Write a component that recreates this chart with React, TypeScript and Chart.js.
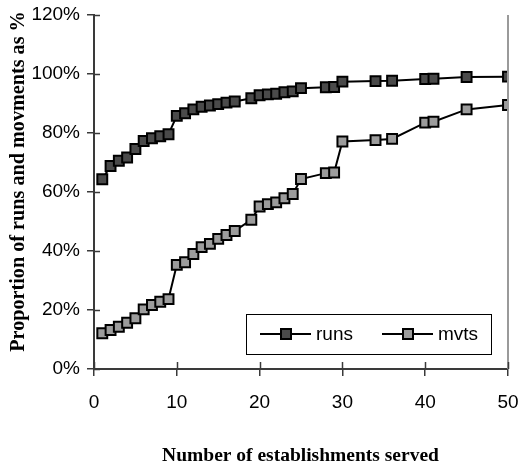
import React, { useEffect, useRef } from "react";
import { Chart, registerables } from "chart.js";

Chart.register(...registerables);

const establishments = [1, 2, 3, 4, 5, 6, 7, 8, 9, 10, 11, 12, 13, 14, 15, 16, 17, 19, 20, 21, 22, 23, 24, 25, 28, 29, 30, 34, 36, 40, 41, 45, 50];
const runsPct = [64.3, 68.8, 70.6, 71.7, 74.6, 77.3, 78.2, 78.9, 79.6, 85.8, 86.7, 88.0, 88.9, 89.3, 89.8, 90.3, 90.7, 91.8, 92.8, 93.1, 93.3, 93.8, 94.1, 95.2, 95.5, 95.6, 97.4, 97.6, 97.7, 98.3, 98.4, 99.0, 99.1];
const mvtsPct = [12.1, 13.2, 14.3, 15.7, 17.2, 20.2, 21.7, 22.8, 23.7, 35.3, 36.2, 39.0, 41.3, 42.4, 44.1, 45.4, 46.8, 50.6, 55.1, 55.9, 56.5, 57.9, 59.3, 64.4, 66.4, 66.6, 77.1, 77.6, 78.0, 83.5, 83.8, 88.0, 89.5];
const seriesNames = ["runs", "mvts"];
const xTitle = "Number of establishments served";
const yTitle = "Proportion of runs and movments as %";

const RUNS_FILL = "#4a4a4a";
const MVTS_FILL = "#9c9c9c";
const AXIS_COLOR = "#3a3a3a";
const TICK_FONT = "Liberation Sans";
const TITLE_FONT = "Liberation Serif";

const decorPlugin = {
  id: "decor",
  afterDraw(chart: any) {
    const ctx = chart.ctx as CanvasRenderingContext2D;
    const { left, right, top, bottom } = chart.chartArea;
    const xs = chart.scales.x;
    const ys = chart.scales.y;
    ctx.save();
    // right border
    ctx.strokeStyle = "#9a9a9a";
    ctx.lineWidth = 2;
    ctx.beginPath();
    ctx.moveTo(right, top);
    ctx.lineTo(right, bottom);
    ctx.stroke();
    // inner tick marks
    ctx.strokeStyle = AXIS_COLOR;
    ctx.lineWidth = 1.5;
    ys.ticks.forEach((t: any) => {
      const y = Math.round(ys.getPixelForValue(t.value)) + 0.5;
      ctx.beginPath();
      ctx.moveTo(left, y);
      ctx.lineTo(left + 6, y);
      ctx.stroke();
    });
    xs.ticks.forEach((t: any) => {
      const x = Math.round(xs.getPixelForValue(t.value)) + 0.5;
      ctx.beginPath();
      ctx.moveTo(x, bottom);
      ctx.lineTo(x, bottom - 7);
      ctx.stroke();
    });
    // legend
    const lx = 246.5, ly = 314.5, lw = 245, lh = 40;
    ctx.fillStyle = "#ffffff";
    ctx.fillRect(lx, ly, lw, lh);
    ctx.strokeStyle = "#000";
    ctx.lineWidth = 1;
    ctx.strokeRect(lx, ly, lw, lh);
    const entries = [
      { name: seriesNames[0], fill: RUNS_FILL, x0: 260 },
      { name: seriesNames[1], fill: MVTS_FILL, x0: 382 },
    ];
    const cy = 334;
    entries.forEach((e) => {
      ctx.strokeStyle = "#000";
      ctx.lineWidth = 2;
      ctx.beginPath();
      ctx.moveTo(e.x0, cy);
      ctx.lineTo(e.x0 + 51, cy);
      ctx.stroke();
      ctx.fillStyle = e.fill;
      ctx.fillRect(e.x0 + 21, cy - 5, 10, 10);
      ctx.strokeRect(e.x0 + 21, cy - 5, 10, 10);
      ctx.fillStyle = "#000";
      ctx.font = `19px "${TICK_FONT}"`;
      ctx.textBaseline = "middle";
      ctx.textAlign = "left";
      ctx.fillText(e.name, e.x0 + 56, cy + 1);
    });
    // titles
    ctx.fillStyle = "#000";
    ctx.font = `bold 19.5px "${TITLE_FONT}"`;
    ctx.textAlign = "center";
    ctx.textBaseline = "alphabetic";
    ctx.fillText(xTitle, 300.5, 461);
    ctx.save();
    ctx.font = `bold 20.2px "${TITLE_FONT}"`;
    ctx.translate(24, 181.5);
    ctx.rotate(-Math.PI / 2);
    ctx.fillText(yTitle, 0, 0);
    ctx.restore();
    ctx.restore();
  },
};

export default function App() {
  const canvasRef = useRef<HTMLCanvasElement | null>(null);

  useEffect(() => {
    const canvas = canvasRef.current;
    if (!canvas) return;
    const makePoints = (vals: number[]) => establishments.map((x, i) => ({ x, y: vals[i] }));
    const chart = new Chart(canvas, {
      type: "line",
      data: {
        datasets: [
          {
            label: seriesNames[0],
            data: makePoints(runsPct),
            borderColor: "#000",
            borderWidth: 2,
            backgroundColor: RUNS_FILL,
            pointBackgroundColor: RUNS_FILL,
            pointBorderColor: "#000",
            pointBorderWidth: 2,
            pointStyle: "rect",
            pointRadius: 7,
            tension: 0,
            fill: false,
          },
          {
            label: seriesNames[1],
            data: makePoints(mvtsPct),
            borderColor: "#000",
            borderWidth: 2,
            backgroundColor: MVTS_FILL,
            pointBackgroundColor: MVTS_FILL,
            pointBorderColor: "#000",
            pointBorderWidth: 2,
            pointStyle: "rect",
            pointRadius: 7,
            tension: 0,
            fill: false,
          },
        ],
      },
      options: {
        responsive: false,
        animation: false,
        layout: { padding: { top: 15, right: 13, left: 0, bottom: 0 } },
        plugins: { legend: { display: false }, tooltip: { enabled: false } },
        scales: {
          x: {
            type: "linear",
            min: 0,
            max: 50,
            ticks: {
              stepSize: 10,
              color: "#000",
              padding: 15,
              font: { family: TICK_FONT, size: 19 },
            },
            grid: { drawOnChartArea: false, tickLength: 7, color: AXIS_COLOR, lineWidth: 1.5 },
            border: { color: AXIS_COLOR, width: 2 },
            afterFit: (s: any) => {
              s.height = 99;
              s.paddingLeft = 0;
              s.paddingRight = 0;
            },
          },
          y: {
            type: "linear",
            min: 0,
            max: 120,
            ticks: {
              stepSize: 20,
              color: "#000",
              padding: 7,
              font: { family: TICK_FONT, size: 19 },
              callback: (v: any) => `${v}%`,
            },
            grid: { drawOnChartArea: false, tickLength: 7, color: AXIS_COLOR, lineWidth: 1.5 },
            border: { color: AXIS_COLOR, width: 2 },
            afterFit: (s: any) => {
              s.width = 94;
              s.paddingTop = 0;
              s.paddingBottom = 0;
            },
          },
        },
      },
      plugins: [decorPlugin],
    });
    return () => chart.destroy();
  }, []);

  return (
    <div style={{ position: "fixed", left: 0, top: 0, width: 521, height: 468, background: "#fff" }}>
      <canvas ref={canvasRef} width={521} height={468} />
    </div>
  );
}
